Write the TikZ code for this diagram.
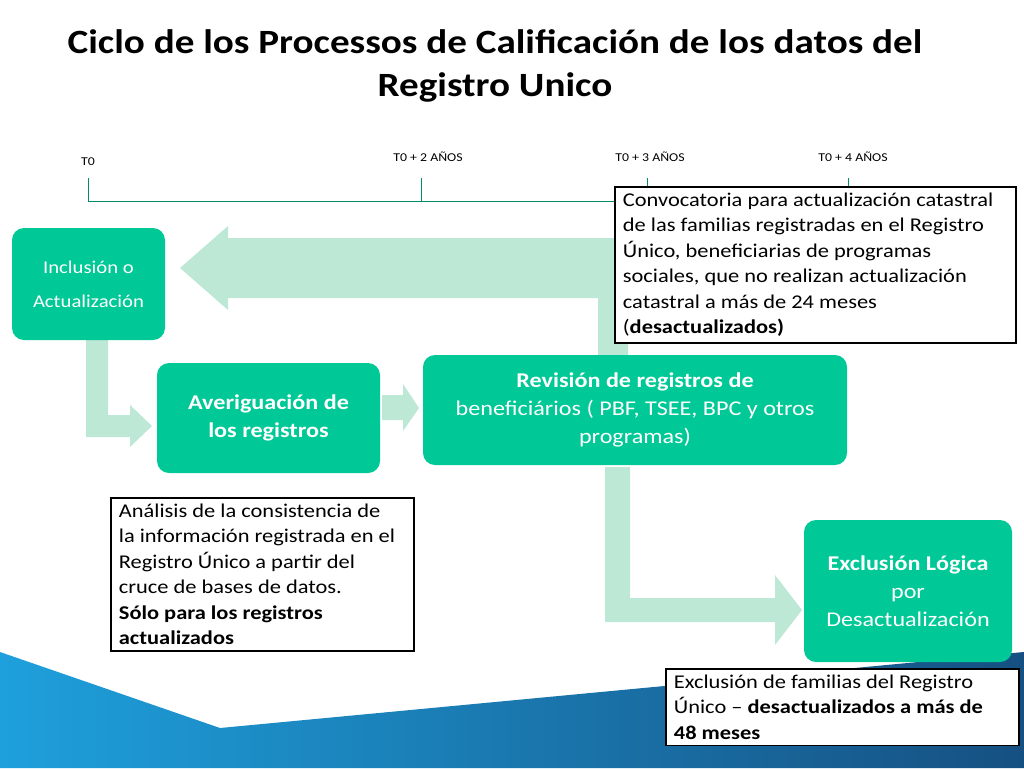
\documentclass[tikz,border=0pt]{standalone}
\usepackage{fontspec}
\setmainfont[FakeStretch=1.15]{Carlito}
\usetikzlibrary{shapes.geometric}
\definecolor{teal}{RGB}{0,200,150}
\definecolor{mint}{RGB}{189,232,214}
\definecolor{bluel}{RGB}{30,160,220}
\definecolor{blued}{RGB}{22,80,130}
\begin{document}
\begin{tikzpicture}[x=1pt,y=-1pt,
  gbox/.style={fill=teal,rounded corners=12pt,text=white,align=center},
  tbox/.style={draw=black,line width=1.8pt,fill=white,align=flush left,anchor=north west,inner xsep=8pt,inner ysep=6pt,font=\fontsize{19.5}{25.5}\selectfont},
  tl/.style={font=\fontsize{12}{15}\selectfont},
  arr/.style={fill=mint}]
\useasboundingbox (0,0) rectangle (1024,768);
% bottom blue
\shade[left color=bluel,right color=blued] (0,652) -- (220,728) -- (1024,652) -- (1024,768) -- (0,768) -- cycle;
\fill[white] (0,645) -- (220,725) -- (1024,645) -- (1024,600) -- (0,600) -- cycle;
% title
\node[font=\bfseries\fontsize{34}{43}\selectfont,align=center] (title) at (495,66) {Ciclo de los Processos de Calificación de los datos del\\Registro Unico};
% timeline
\draw[teal!70!black,line width=1pt] (88,201) -- (848,201);
\foreach \x/\n in {88/a,421/b,647/c,848/d}{\draw[teal!70!black] (\x,178) -- (\x,201); \coordinate (t\n) at (\x,178);}
\node[tl] (l0) at (88,162) {T0};
\node[tl] (l2) at (428,157) {T0 + 2 AÑOS};
\node[tl] (l3) at (650,157) {T0 + 3 AÑOS};
\node[tl] (l4) at (853,157) {T0 + 4 AÑOS};
% arrows
\fill[arr] (628,355) -- (628,238) -- (228,238) -- (228,226) -- (180,268) -- (228,310) -- (228,298) -- (598,298) -- (598,355) -- cycle;
\fill[arr] (86,340) -- (108,340) -- (108,415) -- (130,415) -- (130,405) -- (152,426) -- (130,447) -- (130,437) -- (86,437) -- cycle;
\fill[arr] (382,395) -- (403,395) -- (403,384) -- (419,408) -- (403,431) -- (403,420) -- (382,420) -- cycle;
\fill[arr] (605,467) -- (630,467) -- (630,598) -- (775,598) -- (775,575) -- (802,610) -- (775,645) -- (775,622) -- (605,622) -- cycle;
% green boxes
\node[gbox,minimum width=153pt,minimum height=112pt,font=\fontsize{18}{34}\selectfont] (inc) at (88.5,284) {Inclusión o\\Actualización};
\node[gbox,minimum width=223pt,minimum height=110pt,font=\bfseries\fontsize{21}{28}\selectfont] (ave) at (268.5,418) {Averiguación de\\los registros};
\node[gbox,minimum width=424pt,minimum height=110pt,font=\fontsize{21}{28}\selectfont] (rev) at (635,410) {\textbf{Revisión de registros de}\\beneficiários ( PBF, TSEE, BPC y otros\\programas)};
\node[gbox,minimum width=208pt,minimum height=142pt,font=\fontsize{21}{28}\selectfont] (exc) at (908,591) {\textbf{Exclusión Lógica}\\por\\Desactualización};
% text boxes
\node[tbox,text width=385pt] (conv) at (614,186) {Convocatoria para actualización catastral\\de las familias registradas en el Registro\\Único, beneficiarias de programas\\sociales, que no realizan actualización\\catastral a más de 24 meses\\(\textbf{desactualizados)}};
\node[tbox,text width=287pt] (ana) at (110,497) {Análisis de la consistencia de\\la información registrada en el\\Registro Único a partir del\\cruce de bases de datos.\\\textbf{Sólo para los registros}\\\textbf{actualizados}};
\node[tbox,text width=337pt] (excl) at (665,668) {Exclusión de familias del Registro\\Único – \textbf{desactualizados a más de}\\\textbf{48 meses}};
\end{tikzpicture}
\end{document}
